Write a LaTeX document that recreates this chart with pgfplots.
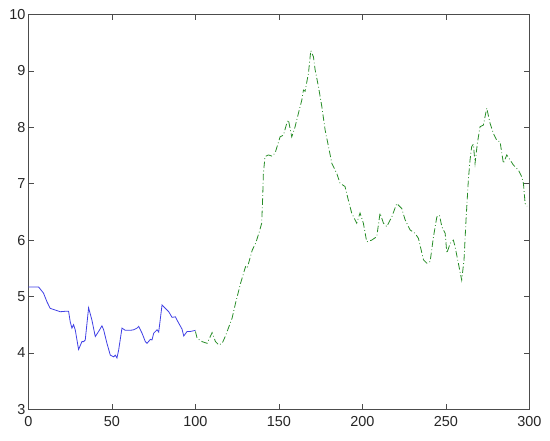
\documentclass[border=0pt]{standalone}
\usepackage{fontspec}
\setmainfont{Liberation Sans}
\usepackage{pgfplots}
\pgfplotsset{compat=1.18}

\definecolor{mblue}{rgb}{0.25,0.25,0.9}
\definecolor{mgreen}{rgb}{0.15,0.55,0.15}

\begin{document}
\begin{tikzpicture}
\useasboundingbox (-28.5bp,-31.7bp) rectangle (521.5bp,409.3bp);
\begin{axis}[
  at={(0,0)}, anchor=south west,
  scale only axis,
  width=500.8bp, height=394.8bp,
  xmin=0, xmax=300, ymin=3, ymax=10,
  xtick={0,50,...,300}, ytick={3,4,...,10},
  tick align=inside, major tick length=5bp,
  axis line style={black!70, line width=0.6bp},
  every tick/.style={black!70, line width=0.6bp},
  tick label style={font=\fontsize{14.5}{17}\selectfont, text=black!85},
  /pgf/number format/assume math mode=true,
  xticklabel style={yshift=-4bp},
  yticklabel style={xshift=0.5bp},
  clip=false]
\addplot[mblue, line width=0.8bp] coordinates {
(0,5.17) (6,5.17) (9,5.06) (11,4.91) (13,4.79) (16,4.76) (19,4.73) (23,4.74)
(24,4.74) (25,4.55) (26,4.44) (27,4.50) (28,4.41) (30,4.06) (32,4.20) (33,4.20)
(34,4.23) (36,4.80) (38,4.58) (40,4.29) (42,4.38) (44,4.48) (45,4.41) (47,4.17)
(49,3.96) (51,3.93) (52,3.96) (53,3.91) (54,4.05) (56,4.44) (58,4.40) (61,4.40)
(63,4.41) (65,4.44) (66,4.47) (68,4.35) (70,4.20) (71,4.17) (73,4.24) (74,4.23)
(75,4.35) (77,4.41) (78,4.37) (80,4.85) (82,4.79) (84,4.73) (86,4.63) (88,4.64)
(89,4.58) (92,4.42) (93,4.30) (95,4.38) (97,4.38) (100,4.40)
};
\addplot[mgreen, line width=0.8bp, dash pattern=on 6.5bp off 2.5bp on 0.8bp off 2.5bp] coordinates {
(100,4.38) (101,4.26) (104,4.20) (107,4.17) (110,4.36) (112,4.20) (114,4.14)
(116,4.17) (118,4.30) (120,4.46) (122,4.62) (124,4.88) (127,5.23) (130,5.53)
(131,5.50) (134,5.82) (136,5.94) (138,6.12) (139.7,6.30) (140.3,6.77) (140.7,7.18)
(141.7,7.48) (143.7,7.51) (145.7,7.49) (147.7,7.54) (150.7,7.83) (152.7,7.86)
(154.7,8.07) (155.7,8.13) (157.7,7.83) (159.7,8.01) (161.7,8.25) (163.7,8.48)
(164.7,8.66) (165.7,8.64) (167.7,8.96) (169.1,9.36) (170.7,9.25) (171.7,9.02)
(173.7,8.72) (175.7,8.37) (177.7,7.95) (179.7,7.66) (181.7,7.36) (184.7,7.18)
(186.6,7.01) (189.6,6.95) (191.6,6.71) (193.6,6.48) (196.6,6.30) (198.6,6.48)
(200.6,6.30) (202.6,5.97) (205.6,6.00) (208.6,6.06) (210.6,6.48) (212.6,6.30)
(214.6,6.24) (217.6,6.41) (220.6,6.65) (222.6,6.59) (223.6,6.56) (225.6,6.36)
(228.6,6.18) (231.6,6.12) (233.6,6.03) (236.6,5.65) (238.6,5.59) (240.6,5.62)
(242.6,6.06) (244.6,6.41) (246.2,6.44) (247.6,6.24) (249.6,6.12) (250.6,5.77)
(252.6,5.94) (254.5,6.00) (255.5,5.89) (257.5,5.59) (259.5,5.29) (260.9,5.65)
(262.1,6.36) (263.5,7.07) (264.5,7.42) (265.5,7.66) (266.5,7.70) (267.5,7.36)
(268.9,7.72) (270.5,8.01) (272.5,8.04) (274.5,8.34) (276.5,8.07) (278.5,7.89)
(280.5,7.77) (282.5,7.74) (284.5,7.36) (286.5,7.51) (288.5,7.42) (290.5,7.33)
(293.5,7.24) (295.5,7.12) (296.5,7.00) (297.5,6.65) (298.7,6.60)
};
\end{axis}
\end{tikzpicture}
\end{document}
